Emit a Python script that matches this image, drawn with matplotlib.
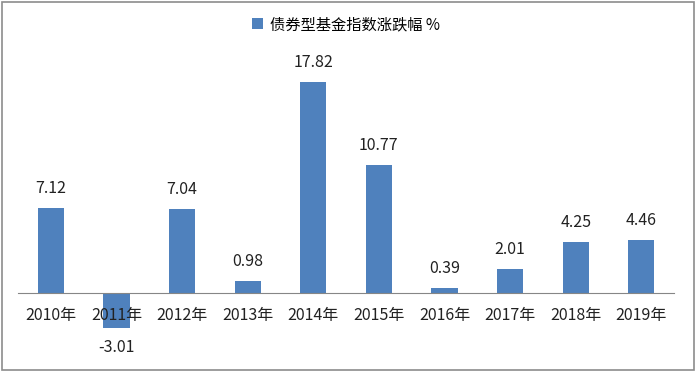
import matplotlib.pyplot as plt
from matplotlib.patches import Rectangle

plt.rcParams['font.family'] = ['Noto Sans CJK SC', 'DejaVu Sans']

years = ['2010年', '2011年', '2012年', '2013年', '2014年',
         '2015年', '2016年', '2017年', '2018年', '2019年']
values = [7.12, -3.01, 7.04, 0.98, 17.82, 10.77, 0.39, 2.01, 4.25, 4.46]
series_name = '债券型基金指数涨跌幅 %'

fig = plt.figure(figsize=(6.98, 3.72), dpi=100)
ax = fig.add_axes([0.0258, 0.086, 0.94, 0.763])

x = range(len(years))
# bars sit under the tick labels (2011年 is written over its bar)
ax.bar(x, values, width=0.4, color='#4F81BD', label=series_name, zorder=1)

for xi, v in zip(x, values):
    if v >= 0:
        ax.annotate(f'{v:.2f}', (xi, v), xytext=(0, 8), textcoords='offset points',
                    ha='center', va='bottom', fontsize=11.5, color='#222222')
    else:
        ax.annotate(f'{v:.2f}', (xi, v), xytext=(0, -8), textcoords='offset points',
                    ha='center', va='top', fontsize=11.5, color='#222222')

ax.set_xlim(-0.5, len(years) - 0.5)
ax.set_ylim(-4, 20)

# x axis drawn through zero, labels hang below it
ax.spines['bottom'].set_position(('data', 0))
ax.spines['bottom'].set_color('#868686')
ax.spines['bottom'].set_zorder(3)
for side in ['top', 'left', 'right']:
    ax.spines[side].set_visible(False)

ax.set_xticks(list(x))
ax.set_xticklabels(years, fontsize=11.5, color='#222222')
ax.tick_params(axis='x', length=0, pad=10)
ax.set_yticks([])

ax.legend(loc='upper center', bbox_to_anchor=(0.5, 1.19), frameon=False,
          fontsize=11, handlelength=0.7, handleheight=0.7, handletextpad=0.5)

fig.patches.append(Rectangle((0.003, 0.005), 0.991, 0.99, transform=fig.transFigure,
                             fill=False, edgecolor='#8c8c8c', linewidth=1.2))

fig.savefig('out.png', dpi=100)
